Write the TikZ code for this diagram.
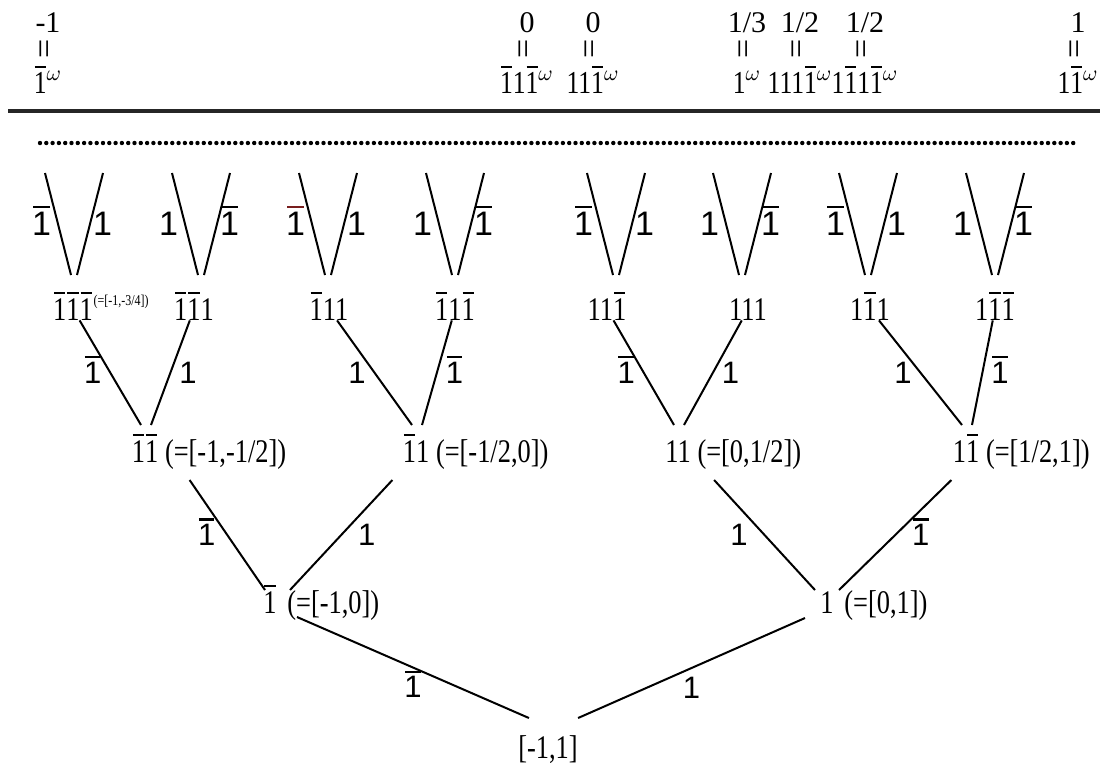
\documentclass[tikz,border=0pt]{standalone}
\usepackage{fontspec}
\setmainfont{Liberation Serif}
\newfontfamily\condserif[FakeStretch=0.8]{Liberation Serif}
\newfontfamily\labsans{Liberation Sans}
\usepackage{tikz}
\usetikzlibrary{positioning, calc}
\definecolor{barred}{RGB}{120,30,30}
% digit one with a bar over it (bar colour as argument)
\newcommand{\bonec}[1]{\mbox{\sbox0{1}\rlap{\hspace{0.03em}\smash{\color{#1}\rule[\dimexpr\ht0+0.12em\relax]{\dimexpr\wd0-0.06em\relax}{0.07em}}}\usebox0}}
\newcommand{\bone}{\bonec{black}}
\newcommand{\wexp}{\ensuremath{^{\omega}}}

\begin{document}
\begin{tikzpicture}[
  x=0.5pt, y=-0.5pt,
  word/.style={font=\condserif\fontsize{16.5}{18}\selectfont, inner sep=0pt, anchor=base},
  tag/.style={font=\condserif\fontsize{16.5}{18}\selectfont, inner sep=0pt, anchor=base west},
  tiny/.style={font=\condserif\fontsize{7.5}{8}\selectfont, inner sep=0pt, anchor=base west},
  val/.style={font=\fontsize{15}{17}\selectfont, inner sep=0pt},
  seq/.style={font=\condserif\fontsize{16}{18}\selectfont, inner sep=0pt, anchor=base},
  eqs/.style={font=\fontsize{17}{17}\selectfont, inner sep=0pt, rotate=90},
  lab/.style={font=\labsans\fontsize{15.5}{17}\selectfont, inner sep=0pt},
  leaf/.style={font=\labsans\fontsize{17}{19}\selectfont, inner sep=0pt},
  edge/.style={line width=1pt},
]
  \useasboundingbox (0,0) rectangle (1102,767);

  % --- limit points on top -----------------------------------------
  \foreach \x/\v/\s [count=\i] in {48/-1/{\bone\wexp}, 527/0/{\bone1\bone\wexp},
      593/0/{11\bone\wexp}, 747/{1/3}/{1\wexp}, 800/{1/2}/{111\bone\wexp},
      865/{1/2}/{1\bone1\bone\wexp}, 1078/1/{1\bone\wexp}} {
    \node[val] (v\i) at (\x,23) {\v};
    \node[eqs] (q\i) at (\x,49) {=};
    \node[seq] (s\i) at (\x,93) {\s};
  }
  \draw[line width=2pt, black!85] (8,111) -- (1100,111);
  \foreach \k in {0,...,164}
    \fill (40+\k*6.3,143) circle[radius=1.1pt];

  % --- tree nodes --------------------------------------------------
  \node[word] (n000) at (73,320) {\bone\bone\bone};
  \node[tiny] (n000i) at ([yshift=7.5pt]n000.base east) {(=[-1,-3/4])};
  \node[word] (n001) at (194,320) {\bone\bone1};
  \node[word] (n010) at (329,320) {\bone11};
  \node[word] (n011) at (455,320) {\bone1\bone};
  \node[word] (n100) at (607,320) {11\bone};
  \node[word] (n101) at (748,320) {111};
  \node[word] (n110) at (870,320) {1\bone1};
  \node[word] (n111) at (995,320) {1\bone\bone};

  \node[word] (n00) at (145,462) {\bone\bone};
  \node[tag] (n00i) at ([xshift=3pt]n00.base east) {(=[-1,-1/2])};
  \node[word] (n01) at (416,462) {\bone1};
  \node[tag] (n01i) at ([xshift=3pt]n01.base east) {(=[-1/2,0])};
  \node[word] (n10) at (678,462) {11};
  \node[tag] (n10i) at ([xshift=3pt]n10.base east) {(=[0,1/2])};
  \node[word] (n11) at (966,462) {1\bone};
  \node[tag] (n11i) at ([xshift=3pt]n11.base east) {(=[1/2,1])};

  \node[word] (n0) at (270,613) {\bone};
  \node[tag] (n0i) at ([xshift=5pt]n0.base east) {(=[-1,0])};
  \node[word] (n1) at (827,613) {1};
  \node[tag] (n1i) at ([xshift=5pt]n1.base east) {(=[0,1])};

  \node[word] (root) at (548,758) {[-1,1]};

  % --- open branches above level 3 ---------------------------------
  \foreach \n/\d/\a/\b in {n000/0.5/\bone/1, n001/3.5/1/\bone, n010/-0.5/{\bonec{barred}}/1,
      n011/0/1/\bone, n100/4.5/\bone/1, n101/-3/1/\bone, n110/-1/\bone/1, n111/0/1/\bone} {
    \coordinate (\n-v) at ([xshift=\d pt]\n.base);
    \draw[edge] ([xshift=-1.5pt,yshift=22.5pt]\n-v) -- ([xshift=-14.5pt,yshift=73.5pt]\n-v)
      node[leaf, midway, left=3pt] {\a};
    \draw[edge] ([xshift=1.5pt,yshift=22.5pt]\n-v) -- ([xshift=14.5pt,yshift=73.5pt]\n-v)
      node[leaf, midway, right=1pt] {\b};
  }

  % --- level 3 to level 2 ------------------------------------------
  \draw[edge] (n000) -- ([xshift=-2pt,yshift=18.5pt]n00.base) node[lab, midway, left=4pt] {\bone};
  \draw[edge] (n001) -- ([xshift=3pt,yshift=18.5pt]n00.base) node[lab, midway, right=4pt] {1};
  \draw[edge] (n010) -- ([xshift=-2pt,yshift=18.5pt]n01.base) node[lab, midway, left=4pt] {1};
  \draw[edge] (n011) -- ([xshift=3pt,yshift=18.5pt]n01.base) node[lab, midway, right=4pt] {\bone};
  \draw[edge] (n100) -- ([xshift=-2pt,yshift=18.5pt]n10.base) node[lab, midway, left=4pt] {\bone};
  \draw[edge] (n101) -- ([xshift=3pt,yshift=18.5pt]n10.base) node[lab, midway, right=4pt] {1};
  \draw[edge] (n110) -- ([xshift=-2pt,yshift=18.5pt]n11.base) node[lab, midway, left=4pt] {1};
  \draw[edge] (n111) -- ([xshift=3pt,yshift=18.5pt]n11.base) node[lab, midway, right=4pt] {\bone};

  % --- level 2 to level 1 ------------------------------------------
  \draw[edge] ([xshift=12.5pt,yshift=-9pt]n00i.base west) -- ([xshift=-2.5pt,yshift=11.5pt]n0.base)
    node[lab, midway, left=5.5pt] {\bone};
  \draw[edge] ([xshift=-5pt,yshift=-9pt]n01.base west) -- ([xshift=10pt,yshift=11.5pt]n0.base)
    node[lab, midway, right=8pt] {1};
  \draw[edge] ([xshift=8.5pt,yshift=-9pt]n10i.base west) -- ([xshift=-6pt,yshift=11.5pt]n1.base)
    node[lab, midway, left=8pt] {1};
  \draw[edge] ([xshift=-0.5pt,yshift=-9pt]n11.base west) -- ([xshift=6pt,yshift=11.5pt]n1.base)
    node[lab, midway, right=8pt] {\bone};

  % --- level 1 to root ---------------------------------------------
  \draw[edge] ([xshift=5pt,yshift=-2pt]n0i.base west) -- ([xshift=5.5pt,yshift=20pt]root.base west)
    node[lab, midway, below=4pt] {\bone};
  \draw[edge] ([yshift=20pt]root.base east) -- ([xshift=-7.5pt,yshift=-2.5pt]n1.base west)
    node[lab, midway, below=4pt] {1};
\end{tikzpicture}
\end{document}
